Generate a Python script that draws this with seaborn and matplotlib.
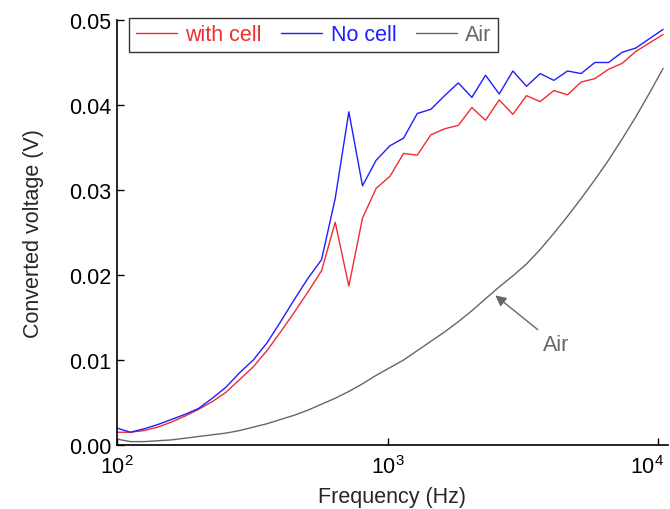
import numpy as np
import pandas as pd
import matplotlib
matplotlib.use('Agg')
import matplotlib.pyplot as plt
import matplotlib.transforms as mtransforms
import seaborn as sns
from matplotlib.ticker import FixedLocator, NullLocator, FormatStrFormatter

# frequency points (Hz)
freq = [100, 112.3, 126.1, 141.7, 159.1, 178.7, 200.7, 225.4, 253.1, 284.3,
        319.3, 358.6, 402.7, 452.3, 508.0, 570.5, 640.8, 719.6, 808.2, 907.7,
        1020, 1146, 1287, 1446, 1624, 1824, 2048, 2300, 2584, 2902,
        3259, 3660, 4111, 4617, 5185, 5824, 6541, 7346, 8251, 9266, 10407]

with_cell = [0.0015, 0.0015, 0.0017, 0.0021, 0.0027, 0.0034, 0.0042, 0.0051, 0.0062, 0.0077,
             0.0092, 0.0111, 0.0133, 0.0156, 0.0180, 0.0205, 0.0262, 0.0187, 0.0267, 0.0302,
             0.0316, 0.0343, 0.0341, 0.0365, 0.0372, 0.0376, 0.0397, 0.0382, 0.0406, 0.0389,
             0.0411, 0.0404, 0.0417, 0.0412, 0.0427, 0.0431, 0.0442, 0.0449, 0.0463, 0.0473, 0.0483]

no_cell = [0.0020, 0.0015, 0.0019, 0.0024, 0.0030, 0.0036, 0.0043, 0.0055, 0.0068, 0.0085,
           0.0100, 0.0120, 0.0145, 0.0171, 0.0196, 0.0218, 0.0290, 0.0392, 0.0305, 0.0335,
           0.0352, 0.0361, 0.0390, 0.0395, 0.0411, 0.0426, 0.0409, 0.0435, 0.0413, 0.0440,
           0.0422, 0.0437, 0.0429, 0.0440, 0.0437, 0.0450, 0.0450, 0.0462, 0.0467, 0.0478, 0.0489]

air = [0.0007, 0.0004, 0.0004, 0.0005, 0.0006, 0.0008, 0.0010, 0.0012, 0.0014, 0.0017,
       0.0021, 0.0025, 0.0030, 0.0035, 0.0041, 0.0048, 0.0055, 0.0063, 0.0072, 0.0082,
       0.0091, 0.0100, 0.0111, 0.0122, 0.0133, 0.0145, 0.0158, 0.0172, 0.0186, 0.0199,
       0.0213, 0.0230, 0.0249, 0.0269, 0.0290, 0.0312, 0.0335, 0.0360, 0.0386, 0.0414, 0.0443]

series = ['with cell', 'No cell', 'Air']
colors = {'with cell': '#F22C2C', 'No cell': '#1E1EFF', 'Air': '#666666'}

df = pd.DataFrame({
    'Frequency': freq * 3,
    'Voltage': with_cell + no_cell + air,
    'Sample': ['with cell'] * len(freq) + ['No cell'] * len(freq) + ['Air'] * len(freq),
})

sns.set_style('ticks')
plt.rcParams['font.family'] = ['Liberation Sans', 'DejaVu Sans']
plt.rcParams['mathtext.fontset'] = 'custom'
plt.rcParams['mathtext.rm'] = 'Liberation Sans'

fs = 15.5

fig = plt.figure(figsize=(6.7, 5.1), dpi=100)
ax = fig.add_axes([116.7 / 670, 64 / 510, (668 - 116.7) / 670, 425 / 510])

sns.lineplot(data=df, x='Frequency', y='Voltage', hue='Sample', hue_order=series,
             palette=colors, linewidth=1.0, ax=ax, legend=False, sort=False)

ax.set_xscale('log')
ax.set_xlim(100, 10850)
ax.set_ylim(0, 0.05)
ax.xaxis.set_major_locator(FixedLocator([100, 1000, 10000]))
ax.xaxis.set_minor_locator(NullLocator())
ax.yaxis.set_major_locator(FixedLocator([0, 0.01, 0.02, 0.03, 0.04, 0.05]))
ax.yaxis.set_major_formatter(FormatStrFormatter('%.2f'))
ax.tick_params(direction='in', length=5, width=1, labelsize=fs, colors='black')
ax.tick_params(axis='x', pad=7)
ax.tick_params(axis='y', pad=4)

# the last x label is pulled in so it stays inside the figure
fig.canvas.draw()
last = ax.get_xticklabels()[-1]
last.set_transform(last.get_transform() +
                   mtransforms.ScaledTranslation(-8 / 72, 0, fig.dpi_scale_trans))

for side in ['top', 'right']:
    ax.spines[side].set_visible(False)
for side in ['left', 'bottom']:
    ax.spines[side].set_linewidth(1.2)
    ax.spines[side].set_color('black')

ax.set_xlabel('Frequency (Hz)', fontsize=fs, labelpad=6)
ax.set_ylabel('Converted voltage (V)', fontsize=fs, labelpad=18)

# legend with coloured text
handles = [plt.Line2D([], [], color=colors[s], lw=1.0) for s in series]
leg = ax.legend(handles, series, loc='upper left', bbox_to_anchor=(0.023, 1.005),
                ncol=3, frameon=True, fancybox=False, fontsize=fs, handlelength=1.9,
                handletextpad=0.4, columnspacing=0.9, borderpad=0.3, borderaxespad=0)
leg.get_frame().set_edgecolor('black')
leg.get_frame().set_linewidth(1.0)
for txt, s in zip(leg.get_texts(), series):
    txt.set_color(colors[s])

ax.annotate('Air', xy=(2500, 0.0176), xytext=(4200, 0.0118), fontsize=fs,
            color='#666666', ha='center', va='center',
            arrowprops=dict(arrowstyle='-|>', color='#666666', lw=1.0,
                            mutation_scale=16, shrinkA=2, shrinkB=0))

fig.savefig('out.png', dpi=100)
